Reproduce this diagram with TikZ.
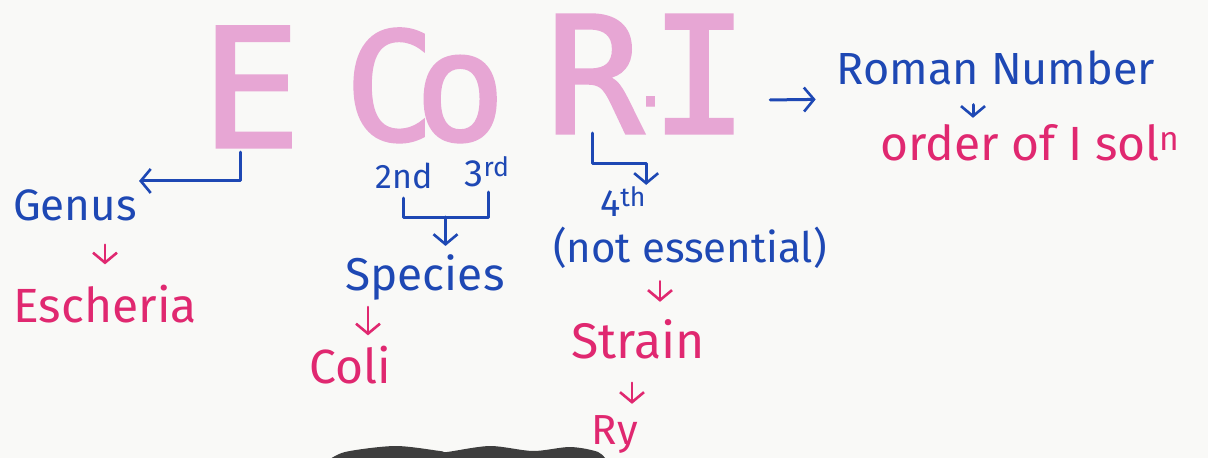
\documentclass[tikz,border=0pt]{standalone}
\usepackage{fontspec}
\setmainfont{Fira Sans}
\newfontfamily\bigfont[FakeBold=2]{DejaVu Sans Mono}
\usetikzlibrary{arrows.meta,calc}
\definecolor{ink}{RGB}{30,72,180}
\definecolor{pinkink}{RGB}{224,40,112}
\definecolor{marker}{RGB}{231,166,212}
\definecolor{paper}{RGB}{249,249,247}
\definecolor{darkmark}{RGB}{62,62,62}
\begin{document}
\begin{tikzpicture}[x=1pt,y=-1pt,
  big/.style={text=marker, font=\bigfont\fontsize{165}{165}\selectfont, inner sep=0pt, anchor=base},
  blu/.style={text=ink, inner sep=0pt, anchor=base},
  pnk/.style={text=pinkink, inner sep=0pt, anchor=base},
  bline/.style={draw=ink, line width=3pt, line cap=round, line join=round},
  tip/.style={-{Straight Barb[length=10pt,width=24pt,line width=2.6pt]}},
  barr/.style={bline, tip},
  parr/.style={draw=pinkink, line width=2.6pt, line cap=round, tip},
]
\fill[paper] (0,0) rectangle (1208,458);
\useasboundingbox (0,0) rectangle (1208,458);
% big marker letters
\node[big] (E) at (251,147) {E};
\node[big, font=\bigfont\fontsize{150}{150}\selectfont] (Co) at (425,140) {C\kern-20pt o};
\node[big, font=\bigfont\fontsize{162}{162}\selectfont] (RI) at (647,133)
  {R\kern7pt\makebox[0pt]{\raisebox{27pt}{\fontsize{62}{62}\selectfont .}}I};
% texts
\node[blu, font=\fontsize{44}{44}\selectfont] (Genus) at (75,220) {Genus};
\node[pnk, font=\fontsize{48}{48}\selectfont] (Esch) at (105,322) {Escheria};
\node[blu, font=\fontsize{34}{34}\selectfont] (n2) at (404,188) {2nd};
\node[blu, font=\fontsize{38}{38}\selectfont] (n3) at (487,186) {3\textsuperscript{rd}};
\node[blu, font=\fontsize{46}{46}\selectfont] (Species) at (425,290) {Species};
\node[pnk, font=\fontsize{48}{48}\selectfont] (Coli) at (350,383) {Coli};
\node[blu, font=\fontsize{38}{38}\selectfont] (th) at (623,216) {4\textsuperscript{th}};
\node[blu, font=\fontsize{42}{42}\selectfont] (notess) at (690,262) {(not essential)};
\node[pnk, font=\fontsize{50}{50}\selectfont] (Strain) at (638,358) {Strain};
\node[pnk, font=\fontsize{42}{42}\selectfont] (Ry) at (615,444) {Ry};
\node[blu, font=\fontsize{45}{45}\selectfont] (Roman) at (996,84) {Roman Number};
\node[pnk, font=\fontsize{48}{48}\selectfont] (order) at (1030,160) {order of I sol\textsuperscript{n}};
% connectors
\draw[barr] ($(E.south)+(-11,5)$) |- ($(Genus.north east)+(2,-8)$);
\draw[parr, shorten <=24pt, shorten >=20pt] (Genus.south -| Esch.north) -- (Esch.north);
\draw[bline] (403,198) coordinate (bl) -- (403,217) -| coordinate[pos=0.25] (bm) (488,192) coordinate (br);
\draw[barr] (bm) -- ($(bm |- Species.north)+(0,-8)$);
\draw[parr] ($(Species.south)+(-57,7)$) -- ($(Coli.north)+(18,-10)$);
\draw[barr] ($(RI.base)+(-55,0)$) -- ++(0,30) -| ($(th.north east)+(0,-2)$);
\draw[parr] ($(notess.south)+(-30,13)$) -- ($(Strain.north)+(22,-17)$);
\draw[parr] ($(Strain.south)+(-6,24)$) -- ($(Ry.north)+(17,-11)$);
\draw[barr] ($(RI.east)+(22,26)$) -- ($(Roman.west)+(-21,32)$);
\draw[barr] ($(Roman.south)+(-23,20)$) -- ($(order.north)+(-57,-6)$);
% dark marker shape at the bottom
\fill[darkmark] plot[smooth] coordinates {(326,462) (345,452) (395,446) (440,451) (447,452) (490,446) (533,451) (570,447) (598,452) (608,462)} -- cycle;
\end{tikzpicture}
\end{document}
